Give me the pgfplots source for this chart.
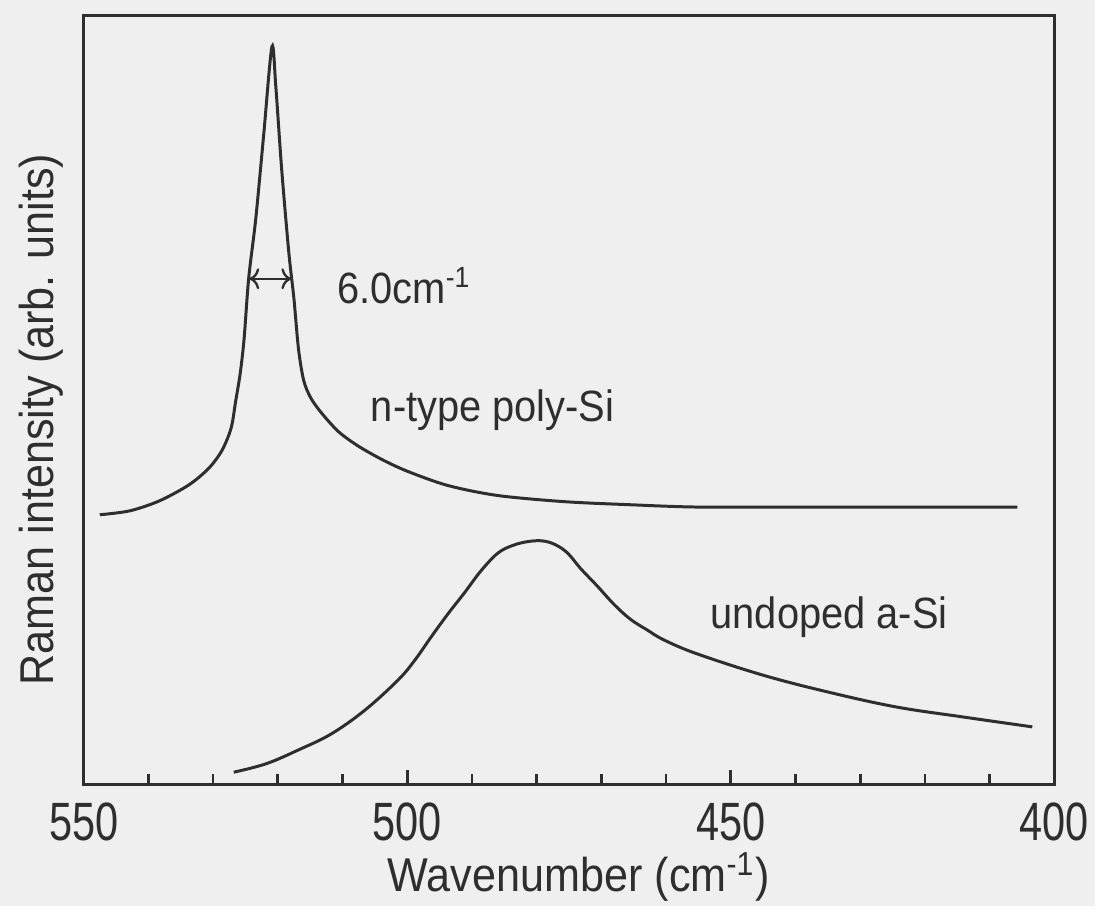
\documentclass[border=0pt]{standalone}
\usepackage{fontspec}
\setmainfont{Liberation Sans}
\usepackage{graphicx}
\usepackage{pgfplots}
\pgfplotsset{compat=1.18}
\usetikzlibrary{arrows.meta,calc,backgrounds}
\definecolor{ink}{HTML}{2E2E2E}
\definecolor{paper}{HTML}{EFEFEF}

% n-type poly-Si (wavenumber, intensity)
\pgfplotstableread{
w      y
547.5  35.1
542.9  35.6
538.3  36.9
533.7  39.0
530.6  41.2
528.6  43.5
527.2  46.4
526.5  49.9
525.8  53.5
525.2  58.0
524.5  65.8
523.4  73.6
522.2  84.3
520.9  96.0
520.3  90.8
519.4  80.1
518.3  69.3
517.5  63.2
516.8  56.7
516.0  52.6
514.9  50.3
513.2  48.3
510.6  45.9
507.5  44.0
503.7  42.2
499.8  40.7
493.7  38.9
486.0  37.6
475.7  36.8
465.5  36.4
455.2  36.1
439.8  36.1
419.4  36.1
405.7  36.1
}\polysi

% undoped a-Si
\pgfplotstableread{
w      y
526.8  1.6
521.8  2.7
516.8  4.5
511.7  6.6
506.5  9.7
501.4  13.6
498.8  16.2
496.3  19.2
493.7  22.2
491.1  25.0
488.6  27.8
486.0  30.1
483.7  31.1
481.4  31.6
479.1  31.7
477.1  31.2
475.2  30.1
473.2  28.1
470.6  25.8
468.0  23.4
465.5  21.5
462.9  20.1
460.3  18.8
455.2  17.0
444.9  14.2
434.8  12.0
424.5  10.1
414.2  8.8
403.4  7.5
}\asi

\begin{document}
\begin{tikzpicture}
\begin{axis}[
  name=ax,
  width=292.5pt,height=231.6pt,scale only axis,
  xmin=400,xmax=550,x dir=reverse,
  ymin=0,ymax=100,
  ytick=\empty,
  xtick={550,500,450,400},
  xticklabels={\scalebox{1}[1.3]{550},\scalebox{1}[1.3]{500},
    \scalebox{1}[1.3]{450},\scalebox{1}[1.3]{400}},
  minor xtick={540,530,...,410},
  xtick pos=bottom,tick align=inside,
  major tick length=4.3pt,minor tick length=3.3pt,
  tick style={draw=ink,line width=0.8pt},
  axis line style={draw=ink,line width=0.9pt},
  xticklabel style={font=\fontsize{12.5}{14}\selectfont,text=ink,
    anchor=center,yshift=-11.2pt},
  xlabel={\scalebox{1}[1.1]{Wavenumber (cm\textsuperscript{-1})}},
  ylabel={\scalebox{1}[1.1]{Raman intensity (arb. units)}},
  label style={font=\fontsize{13}{15}\selectfont,text=ink},
  xlabel style={at={(axis description cs:0.51,0)},anchor=center,yshift=-27.8pt},
  ylabel style={at={(axis description cs:0,0.475)},anchor=center,yshift=12.8pt},
]
\addplot[ink,line width=0.9pt,smooth,tension=0.5] table[x=w,y=y] {\polysi};
\addplot[ink,line width=0.9pt,smooth,tension=0.6] table[x=w,y=y] {\asi};
\draw[ink,line width=0.7pt,{To[length=3pt]}-{To[length=3pt]}]
  (axis cs:524.4,65.8) -- (axis cs:517.9,65.8);
\node[anchor=west,inner sep=0pt,text=ink,font=\fontsize{12}{14}\selectfont]
  at (axis cs:510.9,64.9) {\scalebox{1}[1.1]{6.0cm\textsuperscript{-1}}};
\node[anchor=west,inner sep=0pt,text=ink,font=\fontsize{12}{14}\selectfont]
  at (axis cs:505.7,48.7) {\scalebox{1}[1.1]{n-type poly-Si}};
\node[anchor=center,inner sep=0pt,text=ink,font=\fontsize{12}{14}\selectfont]
  at (axis cs:434.8,21.8) {\scalebox{1}[1.1]{undoped a-Si}};
\end{axis}
\begin{scope}[on background layer]
\fill[paper] ($(ax.south west)+(-25.2pt,-36.6pt)$) rectangle
  ($(ax.north east)+(12.3pt,4.8pt)$);
\end{scope}
\end{tikzpicture}
\end{document}
